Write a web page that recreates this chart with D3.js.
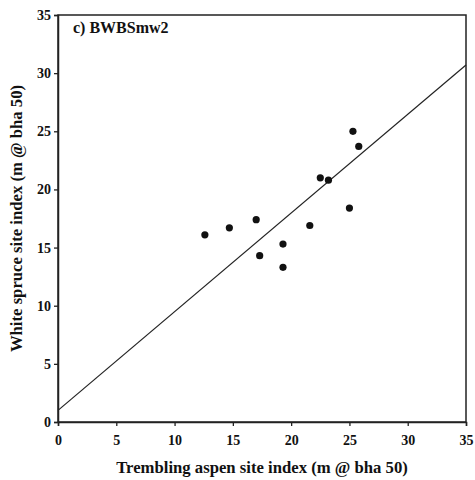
<!DOCTYPE html>
<html>
<head>
<meta charset="utf-8">
<script src="https://cdn.jsdelivr.net/npm/d3@7"></script>
<style>
  body { margin: 0; background: #fff; }
  text { font-family: "Liberation Serif", "DejaVu Serif", serif; font-weight: bold; fill: #111; }
</style>
</head>
<body>
<svg id="chart" width="475" height="480"></svg>
<script>
// aspen vs spruce site index
const aspenSI = [12.6, 14.7, 17.0, 17.3, 19.3, 19.3, 21.6, 22.5, 23.2, 25.0, 25.3, 25.8];
const spruceSI = [16.1, 16.7, 17.4, 14.3, 15.3, 13.3, 16.9, 21.0, 20.8, 18.4, 25.0, 23.7];
const fitLine = [{ x: 0, y: 1.0 }, { x: 35, y: 30.7 }];
const tickValues = [0, 5, 10, 15, 20, 25, 30, 35];

const margin = { left: 58, top: 15, right: 9, bottom: 58 };
const width = 475, height = 480;

const svg = d3.select("#chart");

const x = d3.scaleLinear().domain([0, 35]).range([margin.left, width - margin.right]);
const y = d3.scaleLinear().domain([0, 35]).range([height - margin.bottom, margin.top]);

// box round the plot
svg.append("rect")
  .attr("x", x(0))
  .attr("y", y(35))
  .attr("width", x(35) - x(0))
  .attr("height", y(0) - y(35))
  .style("fill", "none")
  .style("stroke", "#222")
  .style("stroke-width", 1.5);

const xAxis = svg.append("g")
  .attr("transform", `translate(0,${y(0)})`)
  .call(d3.axisBottom(x).tickValues(tickValues).tickSize(4).tickPadding(9));

const yAxis = svg.append("g")
  .attr("transform", `translate(${x(0)},0)`)
  .call(d3.axisLeft(y).tickValues(tickValues).tickSize(4).tickPadding(3));

[xAxis, yAxis].forEach((g) => {
  g.select(".domain").style("stroke", "#222").style("stroke-width", 1.5);
  g.selectAll(".tick line").style("stroke", "#222").style("stroke-width", 1.3);
  g.selectAll(".tick text")
    .style("font-family", "Liberation Serif, serif")
    .style("font-weight", "bold")
    .style("font-size", "14px")
    .style("fill", "#111");
});

// regression line
const lineGen = d3.line().x((d) => x(d.x)).y((d) => y(d.y));
svg.append("path")
  .attr("d", lineGen(fitLine))
  .style("stroke", "#222")
  .style("stroke-width", 1.2)
  .style("fill", "none");

// points
svg.append("g")
  .selectAll("circle")
  .data(aspenSI)
  .join("circle")
  .attr("cx", (d) => x(d))
  .attr("cy", (d, i) => y(spruceSI[i]))
  .attr("r", 3.6)
  .style("fill", "#111");

// panel label
svg.append("text")
  .attr("x", 73)
  .attr("y", 33)
  .style("font-size", "16px")
  .text("c) BWBSmw2");

// axis titles
svg.append("text")
  .attr("x", (x(0) + x(35)) / 2)
  .attr("y", 473)
  .attr("text-anchor", "middle")
  .style("font-size", "16.7px")
  .text("Trembling aspen site index (m @ bha 50)");

svg.append("text")
  .attr("transform", `translate(22,${(y(0) + y(35)) / 2}) rotate(-90)`)
  .attr("text-anchor", "middle")
  .style("font-size", "16.7px")
  .text("White spruce site index (m @ bha 50)");
</script>
</body>
</html>
